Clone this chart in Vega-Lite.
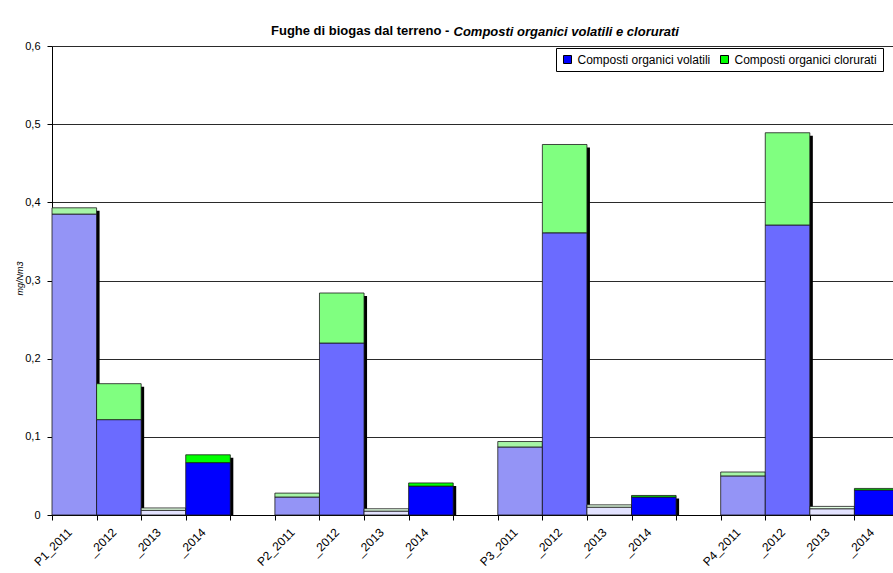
{
  "$schema": "https://vega.github.io/schema/vega-lite/v6.json",
  "autosize": "none",
  "padding": {"left": 52, "top": 46, "right": 0, "bottom": 58},
  "width": 847,
  "height": 469,
  "background": "white",
  "title": {
    "text": "Fughe di biogas dal terreno -",
    "anchor": "start",
    "frame": "group",
    "dx": 219,
    "offset": -13,
    "font": "Liberation Sans",
    "fontSize": 13,
    "fontWeight": "bold",
    "color": "black"
  },
  "data": {
    "values": [
      {"cat": "P1_2011", "key": "V2011", "ord": 1, "value": 0.385},
      {"cat": "P1_2011", "key": "C2011", "ord": 2, "value": 0.008},
      {"cat": "P1_2012", "key": "V2012", "ord": 1, "value": 0.122},
      {"cat": "P1_2012", "key": "C2012", "ord": 2, "value": 0.046},
      {"cat": "P1_2013", "key": "V2013", "ord": 1, "value": 0.006},
      {"cat": "P1_2013", "key": "C2013", "ord": 2, "value": 0.003},
      {"cat": "P1_2014", "key": "Composti organici volatili", "ord": 1, "value": 0.067},
      {"cat": "P1_2014", "key": "Composti organici clorurati", "ord": 2, "value": 0.010},
      {"cat": "P2_2011", "key": "V2011", "ord": 1, "value": 0.023},
      {"cat": "P2_2011", "key": "C2011", "ord": 2, "value": 0.005},
      {"cat": "P2_2012", "key": "V2012", "ord": 1, "value": 0.220},
      {"cat": "P2_2012", "key": "C2012", "ord": 2, "value": 0.064},
      {"cat": "P2_2013", "key": "V2013", "ord": 1, "value": 0.005},
      {"cat": "P2_2013", "key": "C2013", "ord": 2, "value": 0.003},
      {"cat": "P2_2014", "key": "Composti organici volatili", "ord": 1, "value": 0.037},
      {"cat": "P2_2014", "key": "Composti organici clorurati", "ord": 2, "value": 0.004},
      {"cat": "P3_2011", "key": "V2011", "ord": 1, "value": 0.087},
      {"cat": "P3_2011", "key": "C2011", "ord": 2, "value": 0.007},
      {"cat": "P3_2012", "key": "V2012", "ord": 1, "value": 0.361},
      {"cat": "P3_2012", "key": "C2012", "ord": 2, "value": 0.113},
      {"cat": "P3_2013", "key": "V2013", "ord": 1, "value": 0.010},
      {"cat": "P3_2013", "key": "C2013", "ord": 2, "value": 0.003},
      {"cat": "P3_2014", "key": "Composti organici volatili", "ord": 1, "value": 0.023},
      {"cat": "P3_2014", "key": "Composti organici clorurati", "ord": 2, "value": 0.002},
      {"cat": "P4_2011", "key": "V2011", "ord": 1, "value": 0.050},
      {"cat": "P4_2011", "key": "C2011", "ord": 2, "value": 0.005},
      {"cat": "P4_2012", "key": "V2012", "ord": 1, "value": 0.371},
      {"cat": "P4_2012", "key": "C2012", "ord": 2, "value": 0.118},
      {"cat": "P4_2013", "key": "V2013", "ord": 1, "value": 0.008},
      {"cat": "P4_2013", "key": "C2013", "ord": 2, "value": 0.003},
      {"cat": "P4_2014", "key": "Composti organici volatili", "ord": 1, "value": 0.032},
      {"cat": "P4_2014", "key": "Composti organici clorurati", "ord": 2, "value": 0.002}
    ]
  },
  "resolve": {"axis": {"x": "independent"}},
  "layer": [
    {
      "mark": {"type": "bar", "color": "black", "xOffset": 3, "yOffset": 3},
      "encoding": {
        "x": {
          "field": "cat",
          "type": "nominal",
          "scale": {
            "domain": ["P1_2011", "P1_2012", "P1_2013", "P1_2014", "g1",
                       "P2_2011", "P2_2012", "P2_2013", "P2_2014", "g2",
                       "P3_2011", "P3_2012", "P3_2013", "P3_2014", "g3",
                       "P4_2011", "P4_2012", "P4_2013", "P4_2014"],
            "paddingInner": 0,
            "paddingOuter": 0
          },
          "axis": {
            "orient": "top",
            "labels": false,
            "ticks": false,
            "domain": false,
            "grid": false,
            "title": "Composti organici volatili e clorurati",
            "titleFont": "Liberation Sans",
            "titleFontSize": 13,
            "titleFontWeight": "bold",
            "titleFontStyle": "italic",
            "titleColor": "black",
            "titleAlign": "left",
            "titleAnchor": "start",
            "titleBaseline": "alphabetic",
            "titleX": 401,
            "titleY": -11
          }
        },
        "y": {"aggregate": "sum", "field": "value", "type": "quantitative"}
      }
    },
    {
      "mark": {"type": "bar", "stroke": "#1a1a1a", "strokeWidth": 0.8},
      "encoding": {
        "x": {
          "field": "cat",
          "type": "nominal",
          "axis": {
            "orient": "bottom",
            "title": null,
            "tickBand": "extent",
            "labelAngle": -45,
            "labelAlign": "right",
            "labelBaseline": "middle",
            "labelPadding": 10,
            "labelOffset": -5,
            "labelFont": "Liberation Sans",
            "labelFontSize": 12,
            "labelColor": "black",
            "labelExpr": "datum.value == null ? '' : (indexof(datum.value + '', 'g') == 0 ? '' : (indexof(datum.value + '', '_2011') > 0 ? datum.value + '' : substring(datum.value + '', 2)))",
            "domainColor": "black",
            "tickColor": "black",
            "tickSize": 5,
            "grid": false
          }
        },
        "y": {
          "field": "value",
          "type": "quantitative",
          "stack": "zero",
          "scale": {"domain": [0, 0.6], "nice": false},
          "axis": {
            "values": [0, 0.1, 0.2, 0.3, 0.4, 0.5, 0.6],
            "labelExpr": "datum.value == 0 ? '0' : replace(format(datum.value, '.1f'), '.', ',')",
            "labelFont": "Liberation Sans",
            "labelFontSize": 11,
            "labelColor": "black",
            "labelPadding": 7,
            "domainColor": "black",
            "tickColor": "black",
            "tickSize": 5,
            "grid": true,
            "gridColor": "#2a2a2a",
            "gridWidth": 1,
            "title": "mg/Nm3",
            "titleFont": "Liberation Sans",
            "titleFontSize": 9,
            "titleFontWeight": "normal",
            "titleFontStyle": "italic",
            "titleColor": "black",
            "titleAngle": -90,
            "titleAlign": "center",
            "titleBaseline": "middle",
            "titleX": -33,
            "titleY": 232
          }
        },
        "order": {"field": "ord", "type": "quantitative"},
        "color": {
          "field": "key",
          "type": "nominal",
          "scale": {
            "domain": ["V2011", "V2012", "V2013", "Composti organici volatili", "C2011", "C2012", "C2013", "Composti organici clorurati"],
            "range": ["#9494f6", "#6b6bff", "#e2e2ff", "#0000ff", "#a6f5a6", "#80ff80", "#e2ffe2", "#00ff00"]
          },
          "legend": {
            "values": ["Composti organici volatili", "Composti organici clorurati"],
            "title": null,
            "orient": "none",
            "legendX": 504,
            "legendY": 2,
            "direction": "horizontal",
            "symbolType": "square",
            "symbolSize": 64,
            "symbolStrokeColor": "black",
            "symbolStrokeWidth": 1,
            "labelFont": "Liberation Sans",
            "labelFontSize": 12,
            "labelColor": "black",
            "labelOffset": 4,
            "columnPadding": 8,
            "padding": 5.5,
            "strokeColor": "black",
            "fillColor": "white"
          }
        }
      }
    }
  ],
  "config": {
    "view": {"stroke": null}
  }
}
